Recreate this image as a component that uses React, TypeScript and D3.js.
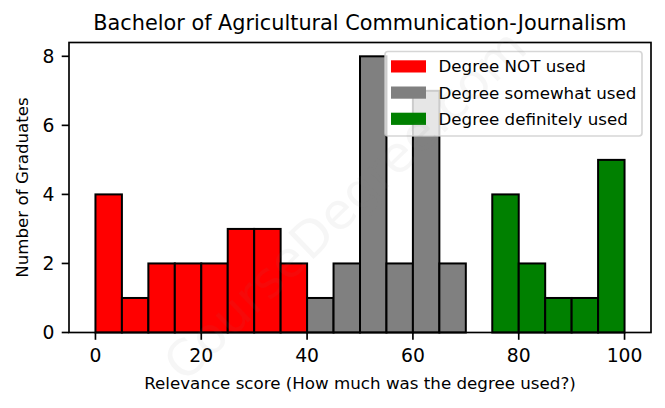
import React from "react";
import * as d3 from "d3";

const title = "Bachelor of Agricultural Communication-Journalism";
const xLabel = "Relevance score (How much was the degree used?)";
const yLabel = "Number of Graduates";
const watermark = "CourseDegree.com";

const notUsedBins = [0, 5, 10, 15, 20, 25, 30, 35];
const notUsedCounts = [4, 1, 2, 2, 2, 3, 3, 2];
const somewhatBins = [40, 45, 50, 55, 60, 65];
const somewhatCounts = [1, 2, 8, 2, 7, 2];
const definitelyBins = [75, 80, 85, 90, 95];
const definitelyCounts = [4, 2, 1, 1, 5];
const binWidth = 5;

const xTicks = [0, 20, 40, 60, 80, 100];
const yTicks = [0, 2, 4, 6, 8];

const seriesNames = ["Degree NOT used", "Degree somewhat used", "Degree definitely used"];
const seriesColors = ["#ff0000", "#808080", "#008000"];

const W = 665;
const H = 408;
const FONT = "DejaVu Sans, sans-serif";

export default function App() {
  const x = d3.scaleLinear().domain([-5, 105]).range([69, 651]);
  const y = d3.scaleLinear().domain([0, 8.4]).range([332.5, 42.5]);
  const series = [
    { bins: notUsedBins, counts: notUsedCounts, color: seriesColors[0] },
    { bins: somewhatBins, counts: somewhatCounts, color: seriesColors[1] },
    { bins: definitelyBins, counts: definitelyCounts, color: seriesColors[2] },
  ];
  const [x0, x1] = x.range();
  const [yb, yt] = y.range();
  const tickLen = 7.3;

  const legendX = 385;
  const legendY = 51.5;
  const legendW = 257;
  const legendH = 84.5;

  return (
    <svg
      width={W}
      height={H}
      style={{ position: "absolute", left: 0, top: 0, background: "#fff" }}
      fontFamily={FONT}
    >
      <rect x={0} y={0} width={W} height={H} fill="#fff" />
      {/* bars */}
      {series.map((s, si) => (
        <g key={si}>
          {s.bins.map((b, i) => (
            <rect
              key={i}
              x={x(b)}
              y={y(s.counts[i])}
              width={x(b + binWidth) - x(b)}
              height={y(0) - y(s.counts[i])}
              fill={s.color}
              stroke="#000"
              strokeWidth={2}
            />
          ))}
        </g>
      ))}
      {/* spines */}
      <rect
        x={x0}
        y={yt}
        width={x1 - x0}
        height={yb - yt}
        fill="none"
        stroke="#000"
        strokeWidth={1.67}
      />
      {/* x ticks */}
      {xTicks.map((t) => (
        <g key={t}>
          <line x1={x(t)} x2={x(t)} y1={yb} y2={yb + tickLen} stroke="#000" strokeWidth={1.67} />
          <text x={x(t)} y={yb + 29} fontSize={18.75} textAnchor="middle" fill="#000">
            {t}
          </text>
        </g>
      ))}
      {/* y ticks */}
      {yTicks.map((t) => (
        <g key={t}>
          <line x1={x0 - tickLen} x2={x0} y1={y(t)} y2={y(t)} stroke="#000" strokeWidth={1.67} />
          <text x={x0 - 14.6} y={y(t) + 6.8} fontSize={18.75} textAnchor="end" fill="#000">
            {t}
          </text>
        </g>
      ))}
      {/* labels */}
      <text x={(x0 + x1) / 2} y={30} fontSize={20.8} textAnchor="middle" fill="#000">
        {title}
      </text>
      <text x={(x0 + x1) / 2} y={389} fontSize={16.7} textAnchor="middle" fill="#000">
        {xLabel}
      </text>
      <text
        transform={`translate(28,${(yb + yt) / 2}) rotate(-90)`}
        fontSize={16.7}
        textAnchor="middle"
        fill="#000"
      >
        {yLabel}
      </text>
      {/* legend */}
      <rect
        x={legendX}
        y={legendY}
        width={legendW}
        height={legendH}
        rx={3}
        fill="#fff"
        fillOpacity={0.8}
        stroke="#cccccc"
        strokeOpacity={0.8}
        strokeWidth={1.67}
      />
      {seriesNames.map((n, i) => (
        <g key={n}>
          <rect x={391} y={60.3 + i * 26.2} width={35} height={12.2} fill={seriesColors[i]} />
          <text x={438.5} y={66.4 + i * 26.2 + 6} fontSize={16.7} fill="#000">
            {n}
          </text>
        </g>
      ))}
      {/* watermark */}
      <text
        transform="translate(345,205) rotate(-44)"
        fontSize={50}
        textAnchor="middle"
        dominantBaseline="central"
        fill="#808080"
        fillOpacity={0.07}
      >
        {watermark}
      </text>
    </svg>
  );
}
